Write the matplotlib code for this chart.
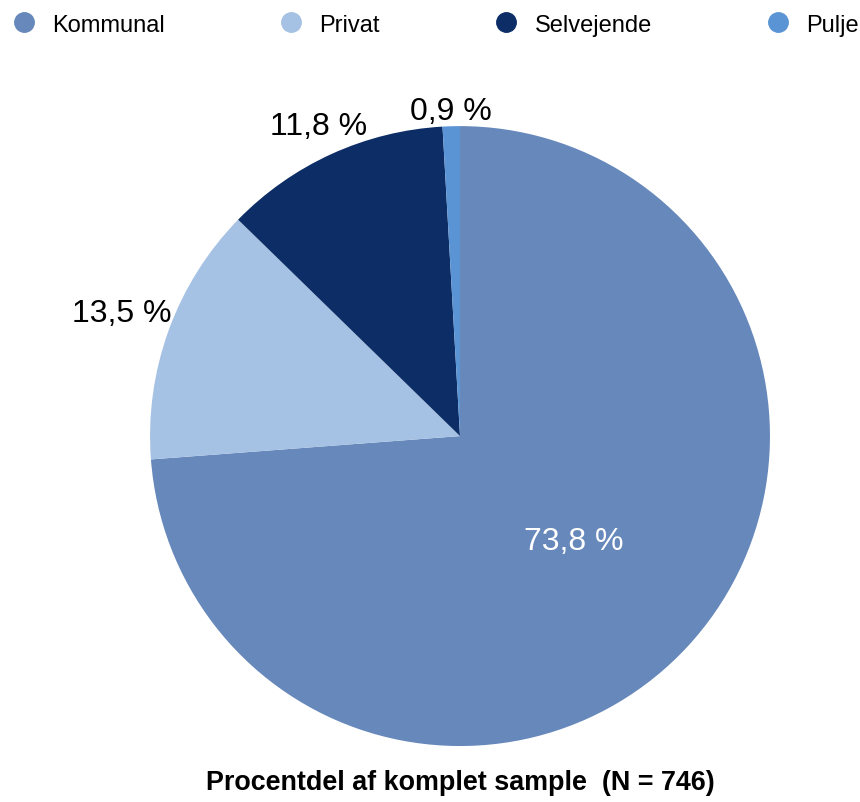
import numpy as np
import matplotlib.pyplot as plt
from matplotlib.lines import Line2D

plt.rcParams['font.family'] = ['Liberation Sans', 'DejaVu Sans']

# data
kategorier = ['Kommunal', 'Privat', 'Selvejende', 'Pulje']
andele = [73.8, 13.5, 11.8, 0.9]
etiketter = ['73,8 %', '13,5 %', '11,8 %', '0,9 %']
farver = ['#6688bb', '#a5c1e4', '#0d2d66', '#5b94d4']

fig = plt.figure(figsize=(8.6, 8.03), dpi=100)
ax = fig.add_axes([0.1744, 0.0697, 0.721, 0.772])

wedges, _ = ax.pie(andele, colors=farver, startangle=90, counterclock=False,
                   radius=1, wedgeprops=dict(linewidth=0))
ax.set_xlim(-1, 1)
ax.set_ylim(-1, 1)
ax.set_aspect('equal')

# afstand fra centrum for hver etiket
afstand = [0.50, 1.16, 1.10, 1.05]
tekstfarve = ['white', 'black', 'black', 'black']
for w, lab, r, c in zip(wedges, etiketter, afstand, tekstfarve):
    vinkel = np.deg2rad((w.theta1 + w.theta2) / 2)
    ax.text(r * np.cos(vinkel), r * np.sin(vinkel), lab, ha='center', va='center',
            fontsize=23, color=c)

handles = [Line2D([], [], marker='o', linestyle='none', markersize=14,
                  markerfacecolor=f, markeredgecolor=f) for f in farver]
fig.legend(handles, kategorier, loc='upper left', bbox_to_anchor=(0.003, 0.994),
           ncol=4, frameon=False, fontsize=17, handletextpad=0.69,
           columnspacing=4.85, borderaxespad=0.42, borderpad=0, handlelength=1.0)

fig.text(0.5355, 0.025, 'Procentdel af komplet sample  (N = 746)', ha='center',
         va='center', fontsize=19.4, fontweight='bold')

fig.savefig('out.png', dpi=100)
